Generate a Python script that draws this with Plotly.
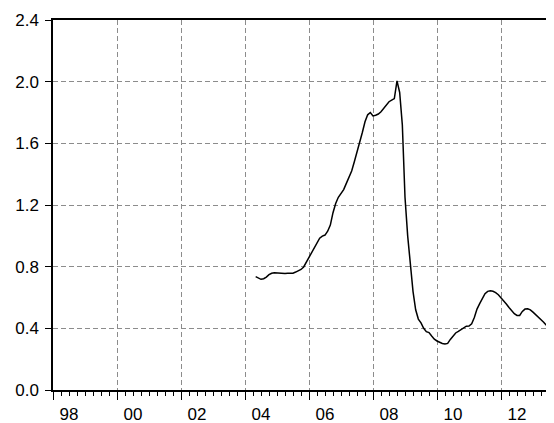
import plotly.graph_objects as go

# Monthly observations, May 2004 .. Jun 2013
start_year = 2004
start_month = 5
values = [
    # 2004 May-Dec
    0.735, 0.725, 0.718, 0.722, 0.732, 0.748, 0.757, 0.760,
    # 2005
    0.758, 0.757, 0.757, 0.756, 0.757, 0.757, 0.758, 0.765, 0.775, 0.782, 0.798, 0.830,
    # 2006
    0.865, 0.895, 0.925, 0.955, 0.985, 0.998, 1.005, 1.030, 1.070, 1.150, 1.210, 1.250,
    # 2007
    1.275, 1.300, 1.340, 1.380, 1.420, 1.480, 1.540, 1.600, 1.670, 1.740, 1.785, 1.800,
    # 2008
    1.778, 1.782, 1.790, 1.805, 1.825, 1.850, 1.870, 1.880, 1.890, 2.005, 1.930, 1.720,
    # 2009
    1.250, 1.000, 0.800, 0.640, 0.520, 0.460, 0.435, 0.400, 0.378, 0.372, 0.350, 0.330,
    # 2010
    0.318, 0.308, 0.302, 0.298, 0.302, 0.328, 0.352, 0.370, 0.380, 0.392, 0.405, 0.414,
    # 2011
    0.415, 0.430, 0.470, 0.525, 0.560, 0.595, 0.625, 0.640, 0.643, 0.640, 0.632, 0.618,
    # 2012
    0.600, 0.580, 0.558, 0.535, 0.515, 0.495, 0.484, 0.484, 0.510, 0.525, 0.527, 0.520,
    # 2013 Jan-Jun
    0.505, 0.490, 0.472, 0.455, 0.440, 0.420,
]

x_range = [1998, 2013.5]
y_ticks = [0.0, 0.4, 0.8, 1.2, 1.6, 2.0, 2.4]
grid_years = [1998, 2000, 2002, 2004, 2006, 2008, 2010, 2012]
label_years = [1998, 2000, 2002, 2004, 2006, 2008, 2010, 2012]
label_text = ["98", "00", "02", "04", "06", "08", "10", "12"]

# time coordinates (decimal years) of each monthly observation
t = [start_year + (start_month - 1 + i) / 12.0 for i in range(len(values))]

fig = go.Figure()
fig.add_trace(go.Scatter(x=t, y=values, mode="lines",
                         line=dict(color="black", width=1.5),
                         showlegend=False, hoverinfo="skip"))
# invisible trace to activate the label axis
fig.add_trace(go.Scatter(x=[x_range[0]], y=[0], xaxis="x2", mode="markers",
                         marker=dict(opacity=0), showlegend=False, hoverinfo="skip"))

font = dict(family="Liberation Sans, Arial, sans-serif", size=17, color="black")

# page body has an 8px margin, so the figure is sized to fit the window
fig.update_layout(
    width=546, height=415,
    margin=dict(l=45, r=5, t=12, b=33, autoexpand=False),
    paper_bgcolor="white", plot_bgcolor="white",
    font=font,
    xaxis=dict(
        range=x_range, tickmode="array", tickvals=grid_years,
        showticklabels=False, ticks="outside", ticklen=8, tickcolor="black",
        showline=True, linecolor="black", linewidth=1.5, mirror=True,
        showgrid=True, gridcolor="#8c8c8c", gridwidth=1, griddash="5px,3px",
        zeroline=False, automargin=False,
        minor=dict(dtick=0.25, tick0=1998, ticks="outside", ticklen=4,
                   tickcolor="black", showgrid=False),
    ),
    xaxis2=dict(
        range=x_range, overlaying="x", side="bottom", anchor="y",
        tickmode="array", tickvals=[y + 0.5 for y in label_years], ticktext=label_text,
        ticks="outside", ticklen=9, tickcolor="rgba(0,0,0,0)",
        showline=False, showgrid=False, zeroline=False, tickfont=font,
        automargin=False,
    ),
    yaxis=dict(
        range=[0, 2.4], tickmode="array", tickvals=y_ticks,
        ticktext=["%.1f" % v for v in y_ticks],
        ticks="outside", ticklen=6, tickcolor="black", ticklabelstandoff=3,
        showline=True, linecolor="black", linewidth=1.5,
        showgrid=True, gridcolor="#8c8c8c", gridwidth=1, griddash="5px,3px",
        zeroline=False, tickfont=font, automargin=False,
    ),
)

fig.write_html("out.html")
